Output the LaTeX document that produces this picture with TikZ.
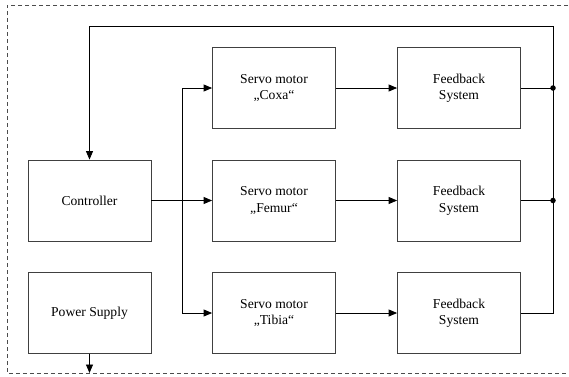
\documentclass[tikz,border=0pt]{standalone}
\usepackage{fontspec}
\setmainfont{Liberation Serif}
\usetikzlibrary{arrows.meta}
\begin{document}
\begin{tikzpicture}[x=1pt,y=-1pt,
  blk/.style={draw=black!75, line width=0.8pt, minimum width=123pt, minimum height=81pt, align=center, inner sep=0pt, font=\rmfamily\fontsize{13.6}{16.5}\selectfont},
  conn/.style={line width=0.8pt, -{Triangle[length=8.5pt,width=7pt]}},
  wire/.style={line width=0.8pt},
  dot/.style={circle, fill=black, inner sep=0pt, minimum size=5.5pt}]
\useasboundingbox (0,0) rectangle (569,376);
\draw[black!70, line width=0.7pt, dash pattern=on 4pt off 3pt] (568,5) -- (7,5) -- (7,373) -- (568,373);
\node[blk] (ctrl) at (89.5,200.5) {Controller};
\node[blk] (pwr) at (89.5,313) {Power Supply};
\node[blk] (s1) at (274,88) {Servo motor\\„Coxa“};
\node[blk] (s2) at (274,200.5) {Servo motor\\„Femur“};
\node[blk] (s3) at (274,313) {Servo motor\\„Tibia“};
\node[blk] (f1) at (459,88) {Feedback\\System};
\node[blk] (f2) at (459,200.5) {Feedback\\System};
\node[blk] (f3) at (459,313) {Feedback\\System};
\coordinate (bus) at (182,200.5);
\coordinate (pout) at (89.5,373);
\node[dot] (j1) at (553,88) {};
\node[dot] (j2) at (553,200.5) {};
\draw[wire] (ctrl.east) -- (bus);
\draw[conn] (bus) -- (s2.west);
\draw[conn] (bus) |- (s1.west);
\draw[conn] (bus) |- (s3.west);
\draw[conn] (s1.east) -- (f1.west);
\draw[conn] (s2.east) -- (f2.west);
\draw[conn] (s3.east) -- (f3.west);
\draw[wire] (f1.east) -- (j1.center);
\draw[wire] (f2.east) -- (j2.center);
\draw[wire] (f3.east) -| (j2.center);
\draw[conn] (j2.center) -- (553,26) -| (ctrl.north);
\draw[conn] (pwr.south) -- (pout);
\end{tikzpicture}
\end{document}
